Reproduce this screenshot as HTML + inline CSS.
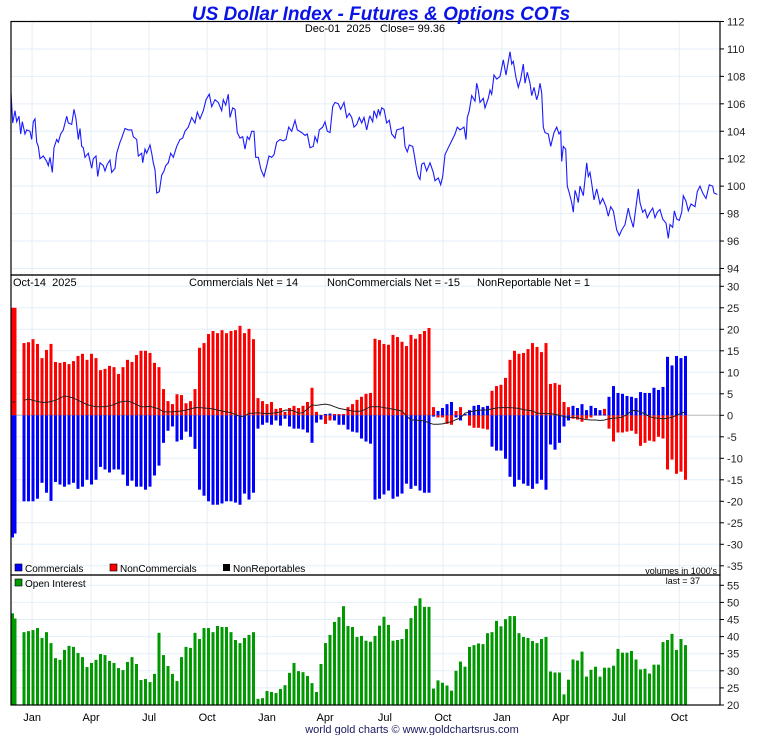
<!DOCTYPE html>
<html><head><meta charset="utf-8"><style>
html,body{margin:0;padding:0;background:#fff;}
svg{display:block;font-family:"Liberation Sans",Arial,sans-serif;}
text{white-space:pre;}
</style></head><body>
<svg id="chart" width="760" height="735" viewBox="0 0 760 735" xmlns="http://www.w3.org/2000/svg">
<rect x="0" y="0" width="760" height="735" fill="#fff"/>
<g id="grid"></g>
<g id="marks"></g>
<g id="frame"></g>
<text x="381" y="20" text-anchor="middle" font-size="19" font-weight="bold" font-style="italic" fill="#0a14e6">US Dollar Index - Futures &amp; Options COTs</text>
<text x="375" y="32" text-anchor="middle" font-size="11" fill="#000" xml:space="preserve">Dec-01  2025   Close= 99.36</text>
<text x="13" y="286" font-size="11" fill="#000" xml:space="preserve">Oct-14  2025</text>
<text x="189" y="286" font-size="11" fill="#000">Commercials Net = 14</text>
<text x="327" y="286" font-size="11" fill="#000">NonCommercials Net = -15</text>
<text x="477" y="286" font-size="11" fill="#000">NonReportable Net = 1</text>
<g>
<rect x="15" y="564" width="7" height="7" fill="#0000ff" stroke="#000" stroke-width="0.6"/>
<text x="25" y="572" font-size="10">Commercials</text>
<rect x="110" y="564" width="7" height="7" fill="#ff0000" stroke="#000" stroke-width="0.6"/>
<text x="120" y="572" font-size="10">NonCommercials</text>
<rect x="223" y="564" width="7" height="7" fill="#000"/>
<text x="233" y="572" font-size="10">NonReportables</text>
</g>
<text x="717" y="574" text-anchor="end" font-size="9" fill="#000">volumes in 1000's</text>
<rect x="15" y="579" width="7" height="7" fill="#009900" stroke="#000" stroke-width="0.6"/>
<text x="25" y="587" font-size="10">Open Interest</text>
<text x="700" y="584" text-anchor="end" font-size="9">last = 37</text>
<text x="412" y="733" text-anchor="middle" font-size="11" fill="#1a1a60">world gold charts © www.goldchartsrus.com</text>
</svg>
<script>
var monthLabels=["Jan","Apr","Jul","Oct","Jan","Apr","Jul","Oct","Jan","Apr","Jul","Oct"];
var monthWeek=[4.8,17.9,30.8,43.7,57,69.9,83.2,96.1,109.2,122.3,135.2,148.6];
var priceTicks=[94,96,98,100,102,104,106,108,110,112];
var cotTicks=[-35,-30,-25,-20,-15,-10,-5,0,5,10,15,20,25,30];
var oiTicks=[20,25,30,35,40,45,50,55];
var priceDay=[33,38,45,50,57,62,67,75,80,90,95,100,105,110,115,120,130,140,145,150,157,162,170,175,182,190,200,205,215,222,228,235,240,245,250,255,265,275,280,288,293,300,310,315,322,330,335,345,350,360,365,375,385,395,400,410,415,425,428,435,440,450,455,460,465,470,478,485,492,497,505,512,520,530,540,548,555,565,575,585,592,600,610,618,628,635,645,655,665,670,677,685,690,698,705,712,720,728,735,742,748,755,762,767,775,783,792,800,807,815,822,830,840,850,858,866,875,885,892,905,915,922,930,940,945,952,958,968,975,982,990,998,1005,1015,1022,1032,1040,1048,1055,1062,1070,1078,1085,1092,1100,1108,
1110,1118,1122,1130,1135,1140,1145,1152,1160,1168,1175,1185,1190,1205,1210,1215,1222,1228,1238,1242,1250,1255,1260,1265,1272,1280,1290,1300,1305,1315,1322,1328,1335,1345,1355,1365,1372,1380,1392,1398,1402,1408,1415,1425,1430,1435,1440,1450,1455,1465,1470,1475,1482,1490,1500,1510,1518,1530,1535,1540,1548,1555,1562,1570,1575,1582,1590,1595,1602,1610,1615,1620,1625,1630,1635,1645,1652,1662,1670,1677,1682,1685,1690,1697,1702,1708,1715,1720,1725,1730,1735,1740,1750,1755,1760,1765,1770,1775,1782,1790,1800,1808,1818,1825,1832,1840,1850,1858,1865,1875,1885,1890,1900,1908,1915,1920,1928,1935,1942,1950,1958,1965,1972,1980,1988,1998,2005,2010,2018,2023,2030,2038,2045,2050,2058,2065,2073,2085,2092,2100,2108,2118,2128,2138,2142,2152];
var priceVal=[106.8,104.6,105.5,104.7,105.1,103.8,104.7,103.8,104.1,104.0,103.4,104.7,104.9,103.2,102.9,102.0,102.2,101.8,101.5,102.1,101.0,102.8,103.4,103.2,103.8,104.1,105.1,104.6,104.5,105.6,104.9,103.4,104.2,102.9,102.8,102.1,102.4,101.3,102.0,102.2,100.7,101.7,101.5,101.1,101.6,101.9,101.0,101.3,102.4,103.2,103.5,104.2,104.1,104.1,103.6,103.4,102.2,102.4,101.7,102.7,102.4,103.0,102.4,101.7,101.2,99.5,99.6,100.8,101.1,101.5,101.7,102.4,102.1,102.9,103.4,103.5,104.0,104.3,105.0,104.6,105.4,104.9,105.5,106.3,106.7,105.8,106.3,106.1,105.5,106.3,105.9,106.7,105.0,105.7,105.6,103.9,103.5,103.6,102.7,103.6,103.4,104.0,104.0,102.1,102.1,101.2,100.7,101.5,102.2,102.1,102.3,103.2,103.4,103.3,103.4,104.3,104.0,104.8,104.1,103.9,103.7,103.8,102.8,102.9,103.6,103.2,104.1,104.3,104.7,104.0,103.9,105.8,106.1,106.0,105.6,106.1,105.0,105.3,105.0,104.3,104.5,105.0,104.6,105.0,104.1,105.0,
105.1,104.7,105.5,105.0,105.6,105.2,105.7,105.6,104.6,104.8,103.8,103.5,104.1,104.2,104.3,102.9,102.5,103.0,102.9,102.4,101.2,100.7,100.5,101.6,101.7,101.1,101.7,101.0,100.4,100.6,100.1,100.7,102.3,102.8,103.3,103.8,104.3,104.1,104.3,103.4,105.0,105.5,106.6,106.2,107.5,107.0,106.1,106.4,105.7,106.4,107.0,106.7,108.1,107.8,108.0,109.2,108.1,109.8,108.9,109.1,107.9,107.2,107.8,108.9,107.5,108.3,107.5,106.6,107.2,106.3,106.7,107.5,106.8,104.3,103.9,103.8,102.9,103.9,104.3,103.8,104.0,101.8,102.9,102.7,100.0,99.5,98.8,98.1,99.7,99.3,98.8,100.0,99.3,100.5,101.7,100.7,101.0,100.2,99.0,99.8,98.7,99.1,98.5,97.8,98.5,98.2,96.8,96.4,96.8,97.2,98.4,97.8,97.0,98.5,99.8,98.8,98.1,98.3,97.7,98.1,98.4,97.7,98.1,98.3,97.6,97.3,96.2,97.2,97.0,98.2,97.6,97.5,98.1,99.3,98.9,98.2,98.7,98.5,99.6,100.0,99.5,99.1,100.1,100.0,99.5,99.4];
var commercials=[-28.4,-27.5,null,
-20,-20,-20,-19.4,-15.7,-18,-19.9,-15.5,-16.1,-16.6,
-16.1,-15.7,-17.1,-16.6,-15,-16.1,-15,-12,-12.6,-13.3,
-12.6,-12.6,-13.8,-16.4,-15.2,-16.6,-16.6,-17.3,-16.6,-14,
-11.7,-6.4,-3.6,-2.6,-6.1,-5.7,-3.8,-5,-7.8,-17.3,
-18.7,-20,-20.8,-20.8,-20.5,-20,-20,-20.3,-20.8,-18.2,
-19.6,-18,-3.1,-2.2,-1.7,-2.2,-1.2,-2.4,-0.8,-2.6,
-3.1,-3.1,-3.3,-4,-6.4,-1.7,-1,0.3,0.4,-1.2,
-2.2,-2.2,-3.3,-3.8,-4,
-5.4,-6.1,-6.6,-19.6,-19.4,-18.4,-17.5,-19.4,-18.9,-18.2,
-15.9,-17.1,-16.4,-17.5,-18,-18,-0.3,1,1.7,2.6,
3.1,-0.5,-1.2,0.3,1.2,2.2,2.4,1.9,2.2,-7.3,
-8.2,-8.2,-10.1,-14.3,-16.6,-15,-15.9,-16.4,-17.1,-15.9,
-15,-17.3,-6.8,-8,-6.4,-2.6,-1.2,2.2,1.7,2.6,
1.2,2.2,1.7,1.2,0.2,4.3,6.8,5.2,5,4.5,
4.3,4,5.4,5.2,5.2,6.4,5.9,6.6,13.6,11.6,
13.8,13.3,13.8];
var nonCommercials=[25,25,null,
16.8,17,17.7,16.6,13.3,15.2,16.6,12.4,12.2,12.4,
11.9,12.6,13.8,14.3,12.9,14.3,13.3,10.5,10.8,11.5,
11.2,9.6,11.2,12.9,12.4,14,15,15,14.5,12.2,
11.2,6.1,3.3,2.6,4.9,4.7,2.8,3.3,6.1,15.7,
16.8,18.9,19.6,19.1,19.8,19.1,19.6,19.8,20.8,19.1,
20.1,17.7,4,3.3,2.6,3.1,1.5,1.7,0.8,1.7,
2.2,1.7,2.2,3.1,6.4,0.8,0.1,-2,-1.2,0.3,
0.3,0.3,1.9,2.6,3.6,
4.3,5,5.2,17.8,17.5,16.6,16.4,18.7,18.2,17.1,
16.1,18.7,17.8,18.9,19.6,20.3,1.9,-0.5,-0.5,-2,
-2.2,1,1.9,0.2,-2.4,-2.9,-2.9,-3.1,-3.3,5.7,
6.8,7.1,8.7,12.9,15,14.3,14.5,15.4,16.8,15.9,
14.7,16.8,7.3,7.5,7.1,3.1,1.9,-0.8,-1,-1.5,
-0.8,-0.5,0.1,0.1,1.5,-3.1,-6.1,-4,-4,-3.8,
-3.6,-4.3,-7.1,-6.4,-5.9,-6.1,-5,-5.4,-12.6,-10.3,
-13.6,-13.1,-15];
var nonReportables=[3.0,3.2,null,
3.5,3.8,3.5,3.2,3,3,3.2,3.5,
4,4.5,4.3,4,
3.5,3,2.5,2.2,
2,2,2,2.2,2.5,3,3.2,
3.3,3,2.5,
2,2,2.1,1.8,1.5,
0.8,0.8,0.8,0.9,1,1.2,1.5,
1.8,1.8,1.7,1.6,1.5,
1.2,1,0.8,0.6,0.2,-0.3,-0.2,
0.5,0.5,0.6,0.5,0.4,0.5,0.6,0.8,1.2,1.2,1,
0.5,0.6,1.5,2.4,
2.3,2.5,2.6,2.4,2,
1.6,1.4,1.2,1,0.9,
1,1.5,2,
2,2,1.8,1.6,1.4,
1.2,1,-0.2,
-1.1,-1.1,-1.2,-1.3,
-1.8,-2.1,-2.1,-2,
-1.7,-1.5,-1,-0.6,
0.5,0.8,1,
1.2,1.2,1.3,1.5,
1.7,1.8,1.8,1.8,1.7,1.6,
1.3,1.2,1,
0.5,0.5,0.4,0.4,0.2,
0,-0.3,-0.5,-0.5,-0.6,
-0.8,-1,-1.1,-1.1,-1.2,-1.1,
-0.8,-0.7,-0.6,-0.4,
0.2,1,1.2,
0.8,0.3,-0.3,-0.6,
-0.7,-0.8,-0.7,-0.5,
0,0.5,0.8];
var openInterest=[46.8,45.3,null,
41.3,41.6,41.9,42.5,39.6,41.3,38.1,33.7,33.2,36.1,
37.3,37,35.2,34,31.1,32.3,33.2,34.9,34.6,32.9,
32.3,30.8,30.2,32.6,34,32,27.3,27.6,26.7,29.1,
41.1,34.6,31.4,29.1,27,34,37,36.7,41.1,39.3,
42.5,42.5,41.3,43.1,42.8,42.8,41.3,39,38.1,39.6,
40.5,41.3,21.8,22,24.1,23.8,23.5,24.7,25.8,29.4,
32.3,29.9,29.6,28.5,26.4,23.8,32,38.1,40.5,44.3,
45.7,48.9,43.1,42.8,39.9,
40.2,38.8,38.5,40.2,43.2,45.8,43.4,38.8,39,39.3,
42.2,45.4,49,51.2,48.7,48.7,24.8,27.2,26.5,25.7,
24.2,30,32.7,31.2,37,37.5,38,37.8,41,41.3,
44.6,43,45.1,46,46,41,39.9,39.6,38.7,38.1,
39.3,39.9,29.8,29.5,29.5,23.1,27.4,33.3,33,35.6,
28.3,30.3,31.2,28.3,30.9,30.9,31.5,36.4,35.3,35.3,
35.8,33.3,30.4,30.6,29.2,31.8,31.8,38.4,39,40.8,
36.1,39.3,37.5];

var NS="http://www.w3.org/2000/svg";
var L=11,R=720,PT=21.5,PB=275,MB=575,OB=705;
function xW(i){return i===0?12.5:10.5+i*4.5;}
function xD(d){return d/3;}
function yP(v){return 21.5+(112-v)*13.72;}
function yM(v){return 415.3-v*4.3;}
function yO(v){return 705-(v-20)*3.42;}
function mk(tag,attrs,parent){var e=document.createElementNS(NS,tag);for(var k in attrs)e.setAttribute(k,attrs[k]);parent.appendChild(e);return e;}
var grid=document.getElementById('grid'),marks=document.getElementById('marks'),frame=document.getElementById('frame');
var gc="#e4eef8";
monthWeek.forEach(function(w,k){
  var x=xW(w);
  [[PT,PB],[PB,MB],[MB,OB]].forEach(function(p){
    var g=mk('line',{x1:x,x2:x,y1:p[0],y2:p[1],stroke:gc,'stroke-width':1},grid);
    
    
  });
  var t=mk('text',{x:x,y:721,'text-anchor':'middle','font-size':11},frame);
  t.textContent=monthLabels[k];
  
  
});
function yAxis(ticks,fy,nm){
  ticks.forEach(function(v){
    var y=fy(v);
    var g=mk('line',{x1:L,x2:R,y1:y,y2:y,stroke:gc,'stroke-width':1},grid);
    
    
    var tk=mk('line',{x1:R,x2:R+4,y1:y,y2:y,stroke:'#000','stroke-width':1},frame);
    
    
    var t=mk('text',{x:R+7,y:y+4,'font-size':11,fill:'#222'},frame);
    t.textContent=v;
    
    
  });
}
yAxis(priceTicks,yP,'price-axis');
yAxis(cotTicks,yM,'cot-axis');
yAxis(oiTicks,yO,'oi-axis');
var z=mk('line',{x1:L,x2:R,y1:yM(0),y2:yM(0),stroke:'#bbb','stroke-width':1},marks);


var pts=priceDay.map(function(d,i){return xD(d).toFixed(1)+','+yP(priceVal[i]).toFixed(1);}).join(' ');
var pl=mk('polyline',{points:pts,fill:'none',stroke:'#1a1aff','stroke-width':1.1},marks);


function bars(arr,color,nm,fy,base){
  arr.forEach(function(v,i){
    if(v===null)return;
    var y0=fy(base),y1=fy(v);
    var r=mk('rect',{x:xW(i)-1.5,y:Math.min(y0,y1),width:3,height:Math.max(0.5,Math.abs(y1-y0)),fill:color},marks);
    
    
  });
}
bars(nonCommercials,'#ff0000','noncommercials-bar',yM,0);
bars(commercials,'#0000ff','commercials-bar',yM,0);
bars(openInterest,'#009900','open-interest-bar',yO,20);
var segs=[],cur=[];
nonReportables.forEach(function(v,i){if(v===null){if(cur.length)segs.push(cur);cur=[];}else cur.push(xW(i).toFixed(1)+','+yM(v).toFixed(1));});
if(cur.length)segs.push(cur);
segs.forEach(function(s){
  var p=mk('polyline',{points:s.join(' '),fill:'none',stroke:'#222','stroke-width':1},marks);
  
  
});
[[PT,PB],[PB,MB],[MB,OB]].forEach(function(p){
  var f=mk('rect',{x:L,y:p[0],width:R-L,height:p[1]-p[0],fill:'none',stroke:'#000','stroke-width':1.2},frame);
  
  
});
</script>
</body></html>
